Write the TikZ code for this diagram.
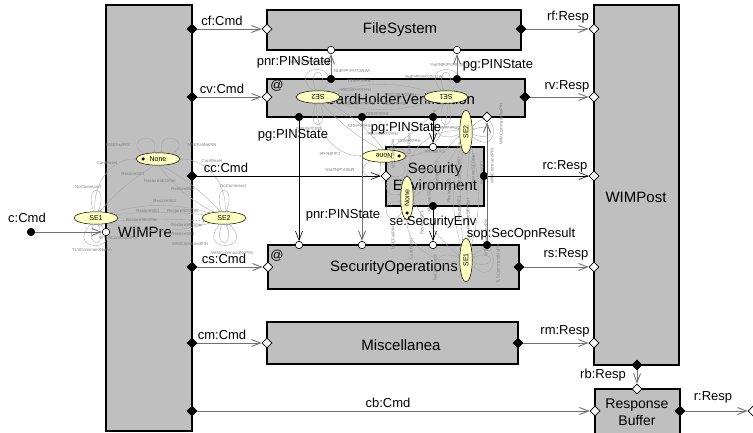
\documentclass[tikz,border=0pt]{standalone}
\usepackage{fontspec}
\setmainfont{Liberation Sans}
\usetikzlibrary{shapes.geometric, arrows.meta}

\definecolor{boxgray}{HTML}{BFBFBF}
\definecolor{stateyellow}{HTML}{FFFFC2}
\definecolor{flowgray}{HTML}{707070}

\begin{document}
\begin{tikzpicture}[x=1pt, y=1pt,
	comp/.style = {draw, line width=1.5pt, fill=boxgray, inner sep=0pt},
	compname/.style = {font=\fontsize{15}{17}\selectfont, align=center, inner sep=0pt},
	lbl/.style = {font=\fontsize{13}{15}\selectfont, inner sep=0pt},
	inport/.style = {draw, diamond, fill=white, inner sep=0pt, minimum size=10pt, line width=0.6pt},
	outport/.style = {inport, fill=black},
	indot/.style = {draw, circle, fill=white, inner sep=0pt, minimum size=7.5pt, line width=0.6pt},
	outdot/.style = {indot, fill=black},
	flow/.style = {draw=flowgray, line width=0.9pt, -{Straight Barb[length=9pt, width=7pt]}},
	thinflow/.style = {flow, draw=black, line width=0.6pt},
	smstate/.style = {draw, ellipse, fill=stateyellow, line width=0.5pt, inner sep=0pt, minimum width=44pt, minimum height=12.5pt, font=\fontsize{7}{8}\selectfont},
	initdot/.style = {circle, fill=black, inner sep=0pt, minimum size=3.5pt},
	trans/.style = {draw=black!35, line width=0.35pt, -{Stealth[length=2.2pt, width=1.8pt]}},
	tlbl/.style = {text=black!50, font=\fontsize{4.3}{5}\selectfont, inner sep=0pt},
	sechart/.pic = {
		% states
		\node[smstate] (-none) at (0,0) {None};
		\node[initdot] (-init) at (-15,0) {};
		\node[smstate] (-se1) at (-62,-59) {SE1};
		\node[smstate] (-se2) at (66,-59) {SE2};
		% transitions
		\draw[trans] (-none.160) .. controls +(150:26) and +(80:26) .. (-none.120);
		\draw[trans] (-none.20) .. controls +(30:26) and +(100:26) .. (-none.60);
		\draw[trans] (-se1.100) to[out=95, in=180] (-none.west);
		\draw[trans] (-se2.80) to[out=85, in=0] (-none.east);
		\draw[trans] (-none.240) to[bend right=8] (-se1.60);
		\draw[trans] (-none.300) to[bend left=8] (-se2.120);
		\draw[trans] (-none.275) to[bend right=12] (-se2.150);
		\draw[trans] (-se1.20) to[bend left=15] (-se2.160);
		\draw[trans] (-se2.170) to[bend right=5] (-se1.10);
		\draw[trans] (-se1.350) to[bend left=5] (-se2.190);
		\draw[trans] (-se2.200) to[bend left=15] (-se1.340);
		\draw[trans] (-se1.110) .. controls +(110:30) and +(70:30) .. (-se1.70);
		\draw[trans] (-se1.250) .. controls +(250:26) and +(290:26) .. (-se1.290);
		\draw[trans] (-se1.230) .. controls +(225:38) and +(310:38) .. (-se1.305);
		\draw[trans] (-se2.110) .. controls +(110:30) and +(70:30) .. (-se2.70);
		\draw[trans] (-se2.250) .. controls +(250:26) and +(290:26) .. (-se2.290);
		\draw[trans] (-se2.235) .. controls +(230:38) and +(315:38) .. (-se2.310);
		% transition labels
		\node[tlbl] (-t1) at (-40,14) {MSEFailPIN};
		\node[tlbl] (-t2) at (44,14) {MSEFailNoPIN};
		\node[tlbl] (-t3) at (-51,-4) {CardReset};
		\node[tlbl] (-t4) at (54,-2) {CardReset};
		\node[tlbl] (-t5) at (-25,-15) {RestoreSE1};
		\node[tlbl] (-t6) at (2,-22) {RestoreSEOther};
		\node[tlbl] (-t7) at (25,-30) {RestoreSE2};
		\node[tlbl] (-t8) at (-70,-28) {NoCommand};
		\node[tlbl] (-t9) at (75,-27) {NoCommand};
		\node[tlbl] (-t10) at (7,-42) {RestoreSE2};
		\node[tlbl] (-t11) at (-10,-52) {RestoreSE1};
		\node[tlbl] (-t12) at (25,-52) {RestoreSEOther};
		\node[tlbl] (-t13) at (-16,-61) {RestoreSEOther};
		\node[tlbl] (-t14) at (29,-66) {RestoreSEOther};
		\node[tlbl] (-t15) at (25,-75) {RestoreSE1};
		\node[tlbl] (-t16) at (-40,-79) {WTLSCommandPin};
		\node[tlbl] (-t17) at (-66,-91) {TLSCommandNoPin};
		\node[tlbl] (-t18) at (32,-85) {WIMCommandPIN};
		\node[tlbl] (-t19) at (74,-94) {WIMCommandNoPIN};
	}]
	\useasboundingbox (0,0) rectangle (753,432);

	% components
	\node[comp, minimum width=86pt, minimum height=426pt] (pre) at (149,214) {};
	\node[comp, minimum width=254pt, minimum height=40pt] (fs) at (394,402) {};
	\node[comp, minimum width=258pt, minimum height=38pt] (chv) at (396,334) {};
	\node[comp, minimum width=98pt, minimum height=59pt] (senv) at (435,255.5) {};
	\node[comp, minimum width=251pt, minimum height=44pt] (sops) at (393.5,165) {};
	\node[comp, minimum width=251pt, minimum height=42pt] (misc) at (392.5,89) {};
	\node[comp, minimum width=85pt, minimum height=360pt] (post) at (636.5,247) {};
	\node[comp, minimum width=85pt, minimum height=51pt] (buf) at (637.5,17.5) {};

	\node[compname] (pre-name) at (145,200) {WIMPre};
	\node[compname] (fs-name) at (400,402) {FileSystem};
	\node[compname] (chv-name) at (400,333) {CardHolderVerification};
	\node[compname] (senv-name) at (435,255) {Security\\Environment};
	\node[compname] (sops-name) at (394,164) {SecurityOperations};
	\node[compname] (misc-name) at (401,87) {Miscellanea};
	\node[compname] (post-name) at (636,235) {WIMPost};
	\node[compname, font=\fontsize{14}{17}\selectfont] (buf-name) at (637,20) {Response\\Buffer};
	\node[lbl] (chv-at) at (277,346) {@};
	\node[lbl] (sops-at) at (277,176) {@};

	% state charts
	\pic (presm) at (158,273) {sechart};
	\pic[rotate=180, transform shape] (chvsm) at (384,276) {sechart};
	\pic[rotate=90, transform shape] (sopsm) at (407,234) {sechart};

	% ports
	\node[outdot] (src) at (31,200) {};
	\node[indot] (pre-c) at (106,200) {};
	\node[outport] (pre-cf) at (192,403) {};
	\node[outport] (pre-cv) at (192,335) {};
	\node[outport] (pre-cc) at (192,256) {};
	\node[outport] (pre-cs) at (192,165) {};
	\node[outport] (pre-cm) at (192,89) {};
	\node[outport] (pre-cb) at (192,21) {};
	\node[inport] (fs-in) at (267,403) {};
	\node[outport] (fs-out) at (521,403) {};
	\node[indot] (fs-pnr) at (331,382) {};
	\node[indot] (fs-pg) at (457,382) {};
	\node[inport] (chv-in) at (267,335) {};
	\node[outport] (chv-out) at (525,335) {};
	\node[outdot] (chv-pnr) at (331,353) {};
	\node[outdot] (chv-pg) at (457,353) {};
	\node[outdot] (chv-pga) at (299,315) {};
	\node[outdot] (chv-pnrb) at (362,315) {};
	\node[outdot] (chv-pgc) at (433,315) {};
	\node[inport] (chv-sop) at (487,315) {};
	\node[inport] (senv-in) at (386,256) {};
	\node[outdot] (senv-out) at (484,256) {};
	\node[indot] (senv-pg) at (433,285) {};
	\node[outdot] (senv-se) at (433,226) {};
	\node[inport] (sops-in) at (268,165) {};
	\node[outport] (sops-out) at (519,165) {};
	\node[indot] (sops-pg) at (299,187) {};
	\node[indot] (sops-pnr) at (362,187) {};
	\node[indot] (sops-se) at (433,187) {};
	\node[outdot] (sops-sop) at (487,187) {};
	\node[inport] (misc-in) at (267,89) {};
	\node[outport] (misc-out) at (518,89) {};
	\node[inport] (post-rf) at (594,403) {};
	\node[inport] (post-rv) at (594,335) {};
	\node[inport] (post-rc) at (594,256) {};
	\node[inport] (post-rs) at (594,165) {};
	\node[inport] (post-rm) at (594,89) {};
	\node[outport] (post-rb) at (637,67) {};
	\node[inport] (buf-top) at (637,43) {};
	\node[inport] (buf-in) at (595,21) {};
	\node[outport] (buf-out) at (680,21) {};
	\node[inport] (resp) at (753,21) {};

	% connectors
	\draw[flow] (src) -- (pre-c);
	\draw[flow] (pre-cf) -- (fs-in);
	\draw[flow] (pre-cv) -- (chv-in);
	\draw[thinflow] (pre-cc) -- (senv-in);
	\draw[flow] (pre-cs) -- (sops-in);
	\draw[flow] (pre-cm) -- (misc-in);
	\draw[flow] (pre-cb) -- (buf-in);
	\draw[flow] (fs-out) -- (post-rf);
	\draw[flow] (chv-out) -- (post-rv);
	\draw[thinflow] (senv-out) -- (post-rc);
	\draw[flow] (sops-out) -- (post-rs);
	\draw[flow] (misc-out) -- (post-rm);
	\draw[flow] (post-rb) -- (buf-top);
	\draw[flow] (buf-out) -- (resp);
	\draw[flow] (chv-pnr) -- (fs-pnr);
	\draw[flow] (chv-pg) -- (fs-pg);
	\draw[thinflow] (chv-pga) -- (sops-pg);
	\draw[flow] (chv-pnrb) -- (sops-pnr);
	\draw[thinflow] (chv-pgc) -- (senv-pg);
	\draw[thinflow] (senv-se) -- (sops-se);
	\draw[flow] (sops-sop) -- (chv-sop);

	% connector labels
	\node[lbl] (l-c) at (27,214) {c:Cmd};
	\node[lbl] (l-cf) at (222,411) {cf:Cmd};
	\node[lbl] (l-cv) at (222,343) {cv:Cmd};
	\node[lbl] (l-cc) at (226,264) {cc:Cmd};
	\node[lbl] (l-cs) at (224,173) {cs:Cmd};
	\node[lbl] (l-cm) at (222,97) {cm:Cmd};
	\node[lbl] (l-cb) at (388,29) {cb:Cmd};
	\node[lbl] (l-rf) at (568,415) {rf:Resp};
	\node[lbl] (l-rv) at (567,346) {rv:Resp};
	\node[lbl] (l-rc) at (565,266) {rc:Resp};
	\node[lbl] (l-rs) at (566,178) {rs:Resp};
	\node[lbl] (l-rm) at (565,101) {rm:Resp};
	\node[lbl] (l-rb) at (603,57) {rb:Resp};
	\node[lbl] (l-r) at (713,35) {r:Resp};
	\node[lbl] (l-pnr) at (294,370) {pnr:PINState};
	\node[lbl] (l-pg) at (498,367) {pg:PINState};
	\node[lbl] (l-pga) at (293,297) {pg:PINState};
	\node[lbl] (l-pgc) at (406,304) {pg:PINState};
	\node[lbl] (l-pnrb) at (343,217) {pnr:PINState};
	\node[lbl] (l-se) at (433,210) {se:SecurityEnv};
	\node[lbl] (l-sop) at (521,198) {sop:SecOpnResult};
\end{tikzpicture}
\end{document}
